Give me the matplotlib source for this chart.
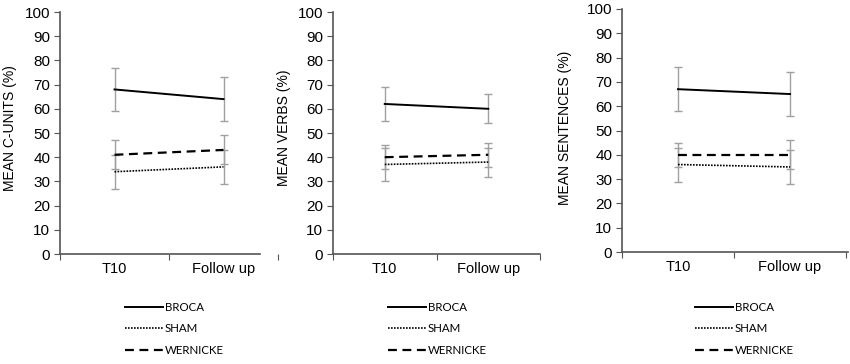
import matplotlib
matplotlib.use("Agg")
import matplotlib.pyplot as plt

plt.rcParams["font.family"] = ["Liberation Sans", "DejaVu Sans"]

timepoints = ["T10", "Follow up"]
groups = ["BROCA", "SHAM", "WERNICKE"]
ylabels = ["MEAN C-UNITS (%)", "MEAN VERBS (%)", "MEAN SENTENCES (%)"]

# means and error half-widths per group (T10, Follow up)
cunits_mean = {"BROCA": [68, 64], "SHAM": [34, 36], "WERNICKE": [41, 43]}
cunits_err = {"BROCA": [9, 9], "SHAM": [7, 7], "WERNICKE": [6, 6]}
verbs_mean = {"BROCA": [62, 60], "SHAM": [37, 38], "WERNICKE": [40, 41]}
verbs_err = {"BROCA": [7, 6], "SHAM": [7, 6], "WERNICKE": [5, 5]}
sent_mean = {"BROCA": [67, 65], "SHAM": [36, 35], "WERNICKE": [40, 40]}
sent_err = {"BROCA": [9, 9], "SHAM": [7, 7], "WERNICKE": [5, 6]}

panels = [(cunits_mean, cunits_err), (verbs_mean, verbs_err), (sent_mean, sent_err)]

styles = {
    "BROCA": dict(linestyle="-", linewidth=1.4),
    "SHAM": dict(linestyle=(0, (1, 0.8)), linewidth=1.2),
    "WERNICKE": dict(linestyle=(0, (4, 2.5)), linewidth=1.6),
}

W, H = 850, 364
# axes boxes in pixels: left, top, width(xlim 0..2), bottom
boxes = [(60, 12, 218, 254), (333, 12, 207, 254), (622, 9, 224, 252)]
spine_end = [1.835, 2.0, 2.02]
ylab_x = [10, 284, 565]
legend_x = [125, 388, 695]

fig = plt.figure(figsize=(W / 100, H / 100), dpi=100)
xs = [0.5, 1.5]
axis_col = "#555555"

for i, ((means, errs), (l, t, w, b)) in enumerate(zip(panels, boxes)):
    ax = fig.add_axes([l / W, (H - b) / H, w / W, (b - t) / H])
    for g in groups:
        ax.errorbar(xs, means[g], yerr=errs[g], fmt="none", ecolor="#a0a0a0",
                    elinewidth=1.0, capsize=3, capthick=1.0, zorder=2)
    for g in groups:
        ax.plot(xs, means[g], color="black", label=g, zorder=3, **styles[g])
    ax.set_xlim(0, 2)
    ax.set_ylim(0, 100)
    ax.set_yticks(range(0, 101, 10))
    ax.set_xticks([0, 1, 2])
    ax.set_xticklabels([])
    ax.set_xticks(xs, minor=True)
    ax.set_xticklabels(timepoints, minor=True, fontsize=10.5)
    ax.tick_params(axis="x", which="minor", length=0, pad=6)
    ax.tick_params(axis="x", which="major", length=4, color=axis_col, direction="out")
    ax.tick_params(axis="y", length=4, color=axis_col, labelsize=11, pad=3)
    for s in ["top", "right"]:
        ax.spines[s].set_visible(False)
    for s in ["left", "bottom"]:
        ax.spines[s].set_color(axis_col)
        ax.spines[s].set_linewidth(1.2)
    ax.spines["bottom"].set_bounds(0, spine_end[i])
    fig.text(ylab_x[i] / W, (H - 128) / H, ylabels[i], rotation=90,
             ha="center", va="center", fontsize=10)
    ax.legend(loc="upper left",
              bbox_to_anchor=((legend_x[i] - l) / w, -(302 - b) / (b - t)),
              frameon=False, handlelength=3.3, handletextpad=0.15,
              labelspacing=0.9, borderpad=0, borderaxespad=0,
              prop={"family": "Lato", "size": 8.3})

fig.savefig("out.png", dpi=100)
